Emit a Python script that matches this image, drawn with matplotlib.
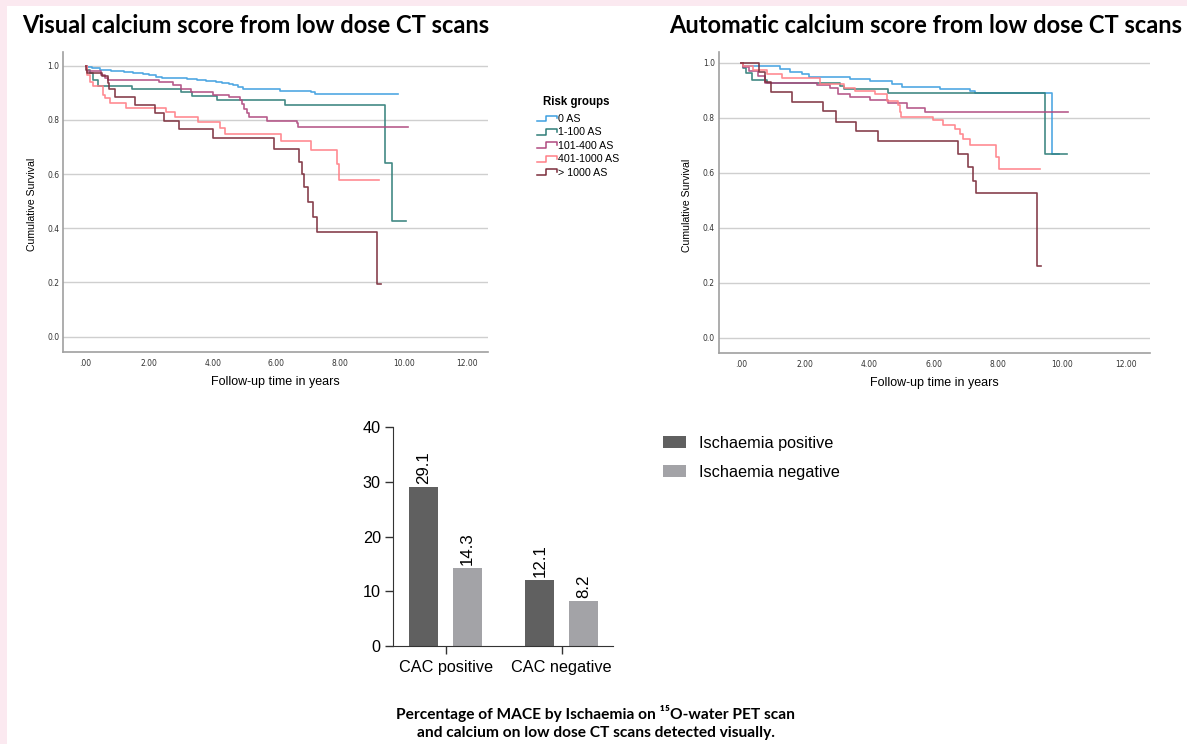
import numpy as np
import matplotlib
matplotlib.use("Agg")
import matplotlib.pyplot as plt
from matplotlib.lines import Line2D
from matplotlib.patches import Rectangle
from matplotlib.legend_handler import HandlerBase

# --- survival curves (time in years, cumulative survival) ---
groups = ["0 AS", "1-100 AS", "101-400 AS", "401-1000 AS", "> 1000 AS"]
group_colors = ["#3d9fe0", "#2f7d78", "#b04a80", "#ff7f86", "#7b2c3a"]

vis_0_t = [0, 0.05, 0.2, 0.45, 0.8, 1.2, 1.5, 1.8, 2.0, 2.2, 2.4, 2.8, 3.2, 3.5, 3.8, 4.1, 4.3, 4.5, 4.65, 4.8, 4.95, 6.1, 6.6, 7.1, 7.2, 9.83]
vis_0_s = [1.0, 0.995, 0.99, 0.986, 0.981, 0.976, 0.972, 0.968, 0.964, 0.96, 0.956, 0.954, 0.951, 0.949, 0.945, 0.94, 0.936, 0.932, 0.927, 0.921, 0.914, 0.908, 0.905, 0.902, 0.895, 0.895]
vis_1_t = [0, 0.05, 0.14, 0.24, 0.4, 1.45, 3.0, 3.33, 4.12, 6.27, 9.41, 9.62, 10.07]
vis_1_s = [1.0, 0.984, 0.972, 0.947, 0.926, 0.914, 0.902, 0.889, 0.875, 0.855, 0.64, 0.427, 0.427]
vis_2_t = [0, 0.05, 0.5, 0.6, 0.71, 2.3, 2.75, 3.0, 3.3, 4.0, 4.5, 4.85, 4.92, 4.98, 5.06, 5.15, 5.7, 6.64, 6.68, 10.12]
vis_2_s = [1.0, 0.98, 0.966, 0.955, 0.947, 0.939, 0.929, 0.915, 0.904, 0.893, 0.883, 0.873, 0.858, 0.84, 0.826, 0.812, 0.797, 0.787, 0.775, 0.775]
vis_3_t = [0, 0.03, 0.135, 0.24, 0.55, 0.61, 0.76, 1.27, 2.52, 2.81, 3.54, 4.22, 4.38, 6.14, 7.08, 7.89, 7.98, 9.23]
vis_3_s = [1.0, 0.966, 0.941, 0.926, 0.892, 0.88, 0.863, 0.845, 0.828, 0.809, 0.792, 0.769, 0.748, 0.722, 0.689, 0.637, 0.578, 0.578]
vis_4_t = [0, 0.01, 0.05, 0.53, 0.71, 0.73, 0.92, 1.55, 2.18, 2.46, 2.94, 3.99, 5.93, 6.72, 6.79, 6.87, 7.0, 7.16, 7.26, 9.15, 9.29]
vis_4_s = [1.0, 0.984, 0.972, 0.962, 0.935, 0.913, 0.883, 0.855, 0.826, 0.796, 0.765, 0.734, 0.691, 0.643, 0.599, 0.553, 0.496, 0.443, 0.387, 0.193, 0.193]

auto_0_t = [0, 0.05, 1.21, 1.53, 1.89, 2.10, 3.40, 4.02, 4.69, 5.01, 6.20, 7.13, 7.29, 9.68, 9.89]
auto_0_s = [1.0, 0.988, 0.976, 0.967, 0.958, 0.947, 0.942, 0.935, 0.922, 0.913, 0.905, 0.898, 0.891, 0.667, 0.667]
auto_1_t = [0, 0.05, 0.16, 0.33, 0.80, 3.08, 3.19, 4.59, 9.47, 10.15]
auto_1_s = [1.0, 0.979, 0.961, 0.936, 0.927, 0.916, 0.905, 0.891, 0.667, 0.667]
auto_2_t = [0, 0.05, 0.23, 0.52, 0.75, 2.36, 2.77, 3.03, 3.40, 4.02, 4.59, 5.16, 5.73, 10.20]
auto_2_s = [1.0, 0.985, 0.971, 0.95, 0.927, 0.919, 0.907, 0.888, 0.876, 0.864, 0.855, 0.836, 0.822, 0.822]
auto_3_t = [0, 0.07, 0.38, 0.80, 1.27, 2.46, 3.19, 3.55, 4.17, 4.54, 4.90, 4.95, 4.98, 5.99, 6.30, 6.67, 6.82, 6.91, 7.13, 7.94, 8.04, 9.31]
auto_3_s = [1.0, 0.988, 0.973, 0.958, 0.943, 0.924, 0.908, 0.897, 0.885, 0.862, 0.846, 0.822, 0.804, 0.792, 0.773, 0.758, 0.739, 0.721, 0.702, 0.658, 0.612, 0.612]
auto_4_t = [0, 0.57, 0.75, 0.93, 1.58, 2.56, 2.95, 3.58, 4.28, 6.77, 7.06, 7.22, 7.32, 9.21, 9.35]
auto_4_s = [1.0, 0.965, 0.931, 0.895, 0.858, 0.824, 0.785, 0.752, 0.715, 0.667, 0.619, 0.571, 0.525, 0.262, 0.262]

vis_curves = [(vis_0_t, vis_0_s), (vis_1_t, vis_1_s), (vis_2_t, vis_2_s), (vis_3_t, vis_3_s), (vis_4_t, vis_4_s)]
auto_curves = [(auto_0_t, auto_0_s), (auto_1_t, auto_1_s), (auto_2_t, auto_2_s), (auto_3_t, auto_3_s), (auto_4_t, auto_4_s)]

# --- bar chart: % MACE ---
cac_groups = ["CAC positive", "CAC negative"]
isch_pos = [29.1, 12.1]
isch_neg = [14.3, 8.2]

W, H = 1187, 744
fig = plt.figure(figsize=(W / 100, H / 100), dpi=100)
fig.patch.set_facecolor("#fbe9f0")
fig.add_artist(Rectangle((7 / W, 0), 1, 1 - 6 / H, transform=fig.transFigure,
                         facecolor="white", edgecolor="none", zorder=-10))

def px_box(x0, y0, x1, y1):
    # pixel box (top-left origin) -> figure fraction
    return [x0 / W, 1 - y1 / H, (x1 - x0) / W, (y1 - y0) / H]


def km_axes(box, curves, xlim, ylim):
    ax = fig.add_axes(px_box(*box))
    for (t, s), c in zip(curves, group_colors):
        ax.step(t, s, where="post", color=c, lw=1.2, alpha=0.9)
    ax.set_xlim(*xlim)
    ax.set_ylim(*ylim)
    ax.set_xticks(np.arange(0, 13, 2))
    ax.set_xticklabels([".00", "2.00", "4.00", "6.00", "8.00", "10.00", "12.00"])
    ax.set_yticks(np.arange(0, 1.01, 0.2))
    ax.set_yticklabels(["0.0", "0.2", "0.4", "0.6", "0.8", "1.0"])
    ax.tick_params(length=0, labelsize=5.5, labelcolor="#333333")
    ax.tick_params(axis="x", pad=5)
    ax.tick_params(axis="y", pad=3)
    ax.grid(axis="y", color="#cfcfcf", lw=1)
    ax.set_axisbelow(True)
    for sp in ["top", "right"]:
        ax.spines[sp].set_visible(False)
    for sp in ["left", "bottom"]:
        ax.spines[sp].set_color("#a0a0a0")
        ax.spines[sp].set_linewidth(1.2)
    ax.set_ylabel("Cumulative Survival", fontsize=7.6, family="Liberation Sans")
    ax.set_xlabel("Follow-up time in years", fontsize=9, family="Liberation Sans")
    ax.yaxis.set_label_coords(-0.062, 0.49)
    ax.xaxis.set_label_coords(0.5, -0.082)
    ax.xaxis.label.set_va("top")
    return ax


ax1 = km_axes((63.3, 51.7, 488, 351.7), vis_curves, (-0.70, 12.65), (-0.0554, 1.0517))
ax2 = km_axes((719, 51.7, 1150, 352.7), auto_curves, (-0.69, 12.74), (-0.0545, 1.04))


class StepHandler(HandlerBase):
    def create_artists(self, legend, orig_handle, xdescent, ydescent, width, height, fontsize, trans):
        xs = np.array([0, 0.45, 0.45, 1.0, 1.0]) * width - xdescent
        ys = np.array([0.1, 0.1, 0.85, 0.85, 0.5]) * height - ydescent
        ln = Line2D(xs, ys, color=orig_handle.get_color(), lw=1.1)
        ln.set_transform(trans)
        return [ln]


handles = [Line2D([], [], color=c) for c in group_colors]
fig.text(576.7 / W, 1 - 102 / H, "Risk groups", ha="center", va="center",
         family="Liberation Sans", weight="bold", fontsize=8.3)
fig.legend(handles, groups, loc="upper left", bbox_to_anchor=(537 / W, 1 - 114 / H),
           frameon=False, handlelength=1.9, handletextpad=0.1, labelspacing=0.32,
           borderpad=0, borderaxespad=0, handler_map={Line2D: StepHandler()},
           prop={"family": "Liberation Sans", "size": 7.7})

# panel titles
fig.text(22 / W, 1 - 33 / H, "Visual calcium score from low dose CT scans", fontsize=17,
         family="Lato", weight="bold", va="baseline", ha="left")
fig.text(1182 / W, 1 - 33 / H, "Automatic calcium score from low dose CT scans", fontsize=17,
         family="Lato", weight="bold", va="baseline", ha="right")

# bar chart
ax3 = fig.add_axes(px_box(393.3, 427.3, 613.3, 646))
x = np.arange(len(cac_groups))
bw = 0.25
off = 0.189
b1 = ax3.bar(x - off, isch_pos, bw, color="#606060", label="Ischaemia positive")
b2 = ax3.bar(x + off, isch_neg, bw, color="#a3a3a7", label="Ischaemia negative")
for bars, vals in [(b1, isch_pos), (b2, isch_neg)]:
    for rect, v in zip(bars, vals):
        ax3.text(rect.get_x() + rect.get_width() / 2, v + 0.5, f"{v:.1f}", rotation=90,
                 ha="center", va="bottom", fontsize=12.2, family="Liberation Sans")
ax3.set_xlim(-0.452, 1.445)
ax3.set_ylim(0, 40)
ax3.set_yticks([0, 10, 20, 30, 40])
ax3.set_xticks(x)
ax3.set_xticklabels(cac_groups)
ax3.tick_params(length=6, width=1, labelsize=11.7, color="#333333", pad=3)
ax3.tick_params(axis="x", pad=4)
for lab in ax3.get_xticklabels() + ax3.get_yticklabels():
    lab.set_family("Liberation Sans")
for sp in ["top", "right"]:
    ax3.spines[sp].set_visible(False)
for sp in ["left", "bottom"]:
    ax3.spines[sp].set_color("#333333")
ax3.legend(loc="upper left", bbox_to_anchor=(662.7 / W, 1 - 436 / H), bbox_transform=fig.transFigure,
           frameon=False, handlelength=1.45, handleheight=0.75, handletextpad=0.8,
           labelspacing=0.85, borderpad=0, borderaxespad=0,
           prop={"family": "Liberation Sans", "size": 11.7})

fig.text(595.5 / W, 1 - 719 / H, "Percentage of MACE by Ischaemia on \u00b9\u2075O-water PET scan",
         fontsize=11.2, family=["Lato", "DejaVu Sans"], weight="bold", ha="center", va="baseline")
fig.text(595.5 / W, 1 - 737 / H, "and calcium on low dose CT scans detected visually.",
         fontsize=11.2, family=["Lato", "DejaVu Sans"], weight="bold", ha="center", va="baseline")

fig.savefig("out.png", dpi=100, facecolor=fig.get_facecolor())
